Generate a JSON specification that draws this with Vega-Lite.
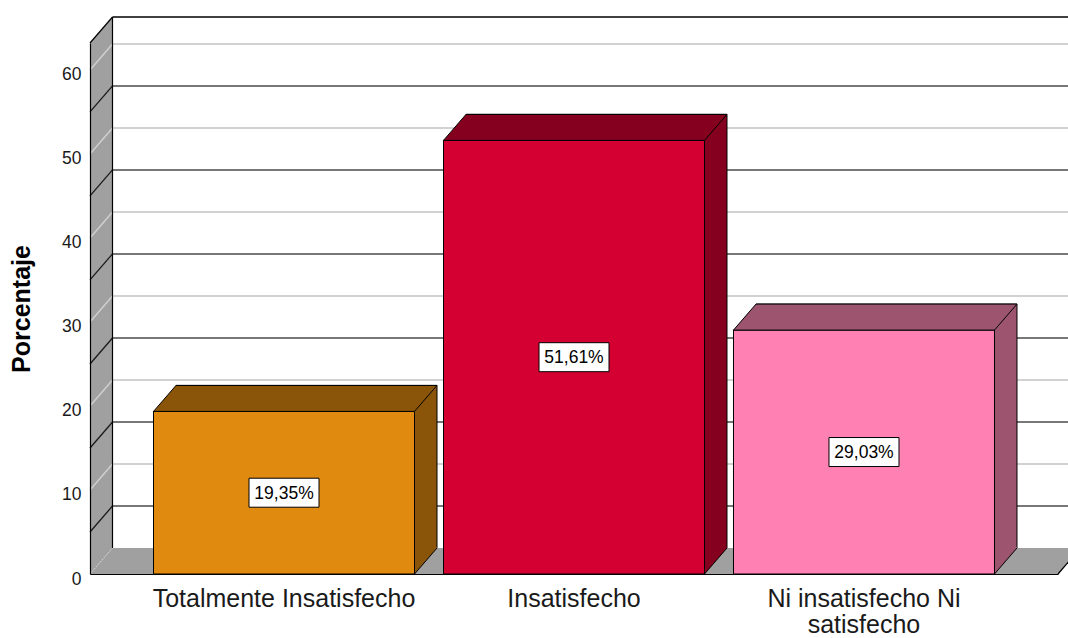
{
  "$schema": "https://vega.github.io/schema/vega-lite/v6.json",
  "width": 968,
  "height": 531,
  "autosize": {"type": "none"},
  "padding": {"left": 90, "top": 43, "right": 10, "bottom": 64},
  "background": "white",
  "config": {
    "view": {"stroke": null},
    "font": "Liberation Sans",
    "locale": {"number": {"decimal": ",", "thousands": ".", "grouping": [3], "currency": ["", "%"]}}
  },
  "datasets": {
    "bars": [
      {"cat": "Totalmente Insatisfecho", "pct": 19.35},
      {"cat": "Insatisfecho", "pct": 51.61},
      {"cat": "Ni insatisfecho Ni satisfecho", "pct": 29.03}
    ],
    "grid": [
      {"v": 5}, {"v": 10}, {"v": 15}, {"v": 20}, {"v": 25}, {"v": 30},
      {"v": 35}, {"v": 40}, {"v": 45}, {"v": 50}, {"v": 55}, {"v": 60}
    ]
  },
  "resolve": {"scale": {"y": "independent"}},
  "layer": [
    {
      "layer": [
        {
          "data": {"values": [{}]},
          "mark": {"type": "rect", "fill": "#a0a0a0", "x2Offset": 22.5},
          "encoding": {
            "x": {"value": 0},
            "x2": {"value": 0},
            "y": {"datum": 0, "type": "quantitative", "scale": {"domain": [0, 63.2], "nice": false, "zero": true}},
            "y2": {"datum": 63.2}
          }
        },
        {
          "data": {"values": [{}]},
          "mark": {"type": "point", "shape": "M0,0L22.5,0L22.5,-26Z", "size": 4, "filled": true, "fill": "#a0a0a0", "strokeWidth": 0, "opacity": 1},
          "encoding": {
            "x": {"value": 0},
            "y": {"datum": 63.2, "type": "quantitative"}
          }
        },
        {
          "data": {"values": [{}]},
          "mark": {"type": "rect", "fill": "#a0a0a0", "x2Offset": 22.5, "y2Offset": -26},
          "encoding": {
            "x": {"value": 0},
            "x2": {"value": "width"},
            "y": {"datum": 0, "type": "quantitative"},
            "y2": {"datum": 0}
          }
        },
        {
          "data": {"values": [{}]},
          "mark": {"type": "point", "shape": "M0,0.5L24,0.5L24,-26L22.5,-26Z", "size": 4, "filled": true, "fill": "white", "strokeWidth": 0, "opacity": 1},
          "encoding": {
            "x": {"value": "width"},
            "y": {"datum": 0, "type": "quantitative"}
          }
        },
        {
          "data": {"name": "grid"},
          "transform": [{"filter": "datum.v % 10 == 0"}],
          "mark": {"type": "rule", "color": "#d2d2d2", "strokeWidth": 2, "xOffset": 22.5, "x2Offset": 22.5, "yOffset": -26},
          "encoding": {
            "x": {"value": 0},
            "x2": {"value": "width"},
            "y": {"field": "v", "type": "quantitative"}
          }
        },
        {
          "data": {"name": "grid"},
          "transform": [{"filter": "datum.v % 10 == 5"}],
          "mark": {"type": "rule", "color": "#4a4a4a", "strokeWidth": 1.5, "xOffset": 22.5, "x2Offset": 22.5, "yOffset": -26},
          "encoding": {
            "x": {"value": 0},
            "x2": {"value": "width"},
            "y": {"field": "v", "type": "quantitative"}
          }
        },
        {
          "data": {"name": "grid"},
          "transform": [{"filter": "datum.v % 10 == 0"}],
          "mark": {"type": "rule", "color": "#cfcfcf", "strokeWidth": 1.5, "x2Offset": 22.5, "y2Offset": -26},
          "encoding": {
            "x": {"value": 0},
            "x2": {"value": 0},
            "y": {"field": "v", "type": "quantitative"},
            "y2": {"field": "v"}
          }
        },
        {
          "data": {"name": "grid"},
          "transform": [{"filter": "datum.v % 10 == 5"}],
          "mark": {"type": "rule", "color": "#1a1a1a", "strokeWidth": 1.3, "x2Offset": 22.5, "y2Offset": -26},
          "encoding": {
            "x": {"value": 0},
            "x2": {"value": 0},
            "y": {"field": "v", "type": "quantitative"},
            "y2": {"field": "v"}
          }
        },
        {
          "data": {"values": [{}]},
          "mark": {"type": "rule", "color": "#d6d6d6", "strokeWidth": 1, "strokeDash": [2, 1], "x2Offset": 22.5, "y2Offset": -26},
          "encoding": {
            "x": {"value": 0},
            "x2": {"value": 0},
            "y": {"datum": 0, "type": "quantitative"},
            "y2": {"datum": 0}
          }
        },
        {
          "data": {"values": [{}]},
          "mark": {"type": "rule", "color": "black", "strokeWidth": 1.2, "xOffset": 22.5, "yOffset": -26, "y2Offset": -26},
          "encoding": {
            "x": {"value": 0},
            "y": {"datum": 0, "type": "quantitative"},
            "y2": {"datum": 63.2}
          }
        },
        {
          "data": {"values": [{}]},
          "mark": {"type": "rule", "color": "black", "strokeWidth": 1.2, "x2Offset": 22.5, "y2Offset": -26},
          "encoding": {
            "x": {"value": 0},
            "x2": {"value": 0},
            "y": {"datum": 63.2, "type": "quantitative"},
            "y2": {"datum": 63.2}
          }
        },
        {
          "data": {"values": [{}]},
          "mark": {"type": "rule", "color": "black", "strokeWidth": 1.6, "xOffset": 22.5, "x2Offset": 22.5, "yOffset": -26},
          "encoding": {
            "x": {"value": 0},
            "x2": {"value": "width"},
            "y": {"datum": 63.2, "type": "quantitative"}
          }
        },
        {
          "data": {"values": [{}]},
          "mark": {"type": "rule", "color": "black", "strokeWidth": 1.2, "x2Offset": 22.5, "y2Offset": -26},
          "encoding": {
            "x": {"value": "width"},
            "x2": {"value": "width"},
            "y": {"datum": 0, "type": "quantitative"},
            "y2": {"datum": 0}
          }
        },
        {
          "data": {"name": "bars"},
          "mark": {"type": "bar", "stroke": "black", "strokeWidth": 1, "xOffset": 22.5, "yOffset": -26, "y2Offset": -26},
          "encoding": {
            "x": {"field": "cat", "type": "nominal", "sort": null},
            "y": {"field": "pct", "type": "quantitative"},
            "fill": {"field": "cat", "type": "nominal", "sort": null, "legend": null, "scale": {"range": ["#8A5508", "#85001F", "#9C546F"]}}
          }
        },
        {
          "data": {"name": "bars"},
          "mark": {"type": "point", "shape": "M0,0L0,-27L22.5,-27L22.5,-26Z", "size": 4, "filled": true, "strokeWidth": 0, "opacity": 1},
          "encoding": {
            "x": {"field": "cat", "type": "nominal", "sort": null, "bandPosition": 1},
            "y": {"datum": 0, "type": "quantitative"},
            "fill": {"field": "cat", "type": "nominal", "sort": null, "legend": null}
          }
        },
        {
          "data": {"name": "bars"},
          "mark": {"type": "point", "shape": "M0,0L22.5,-26", "size": 4, "filled": false, "stroke": "black", "strokeWidth": 1, "opacity": 1},
          "encoding": {
            "x": {"field": "cat", "type": "nominal", "sort": null, "bandPosition": 1},
            "y": {"datum": 0, "type": "quantitative"}
          }
        },
        {
          "data": {"name": "bars"},
          "mark": {"type": "bar", "stroke": "black", "strokeWidth": 1},
          "encoding": {
            "x": {
              "field": "cat", "type": "nominal", "sort": null,
              "scale": {"type": "band", "paddingInner": 0.1, "paddingOuter": 0.219},
              "axis": {
                "title": null, "ticks": false, "grid": false, "labelAngle": 0,
                "bandPosition": 0.5, "labelAlign": "center",
                "labelFontSize": 25, "labelColor": "#1a1a1a", "labelPadding": 24,
                "labelLimit": 0, "labelLineHeight": 26,
                "labelExpr": "datum.label == 'Ni insatisfecho Ni satisfecho' ? ['Ni insatisfecho Ni', 'satisfecho'] : datum.label",
                "domainColor": "black", "domainWidth": 1.2, "zindex": 1
              }
            },
            "y": {
              "field": "pct", "type": "quantitative",
              "axis": {
                "values": [0, 10, 20, 30, 40, 50, 60],
                "title": "Porcentaje", "titleFontSize": 25, "titleFontWeight": "bold",
                "titleColor": "black", "titleX": -61, "titleY": 265.5, "titleAngle": -90,
                "titleBaseline": "alphabetic", "titleAlign": "center",
                "labelFontSize": 17.5, "labelColor": "#1a1a1a", "labelPadding": 9, "labelOffset": 5,
                "ticks": false, "grid": false, "domainColor": "black", "domainWidth": 1.2, "zindex": 1
              }
            },
            "color": {"field": "cat", "type": "nominal", "sort": null, "legend": null, "scale": {"range": ["#E08A10", "#D50032", "#FF80B2"]}}
          }
        },
        {
          "data": {"name": "bars"},
          "mark": {"type": "point", "shape": "M0,0L261,0L283.5,-26L22.5,-26Z", "size": 4, "filled": true, "stroke": "black", "strokeWidth": 1, "opacity": 1},
          "encoding": {
            "x": {"field": "cat", "type": "nominal", "sort": null, "bandPosition": 0},
            "y": {"field": "pct", "type": "quantitative"},
            "fill": {"field": "cat", "type": "nominal", "sort": null, "legend": null}
          }
        }
      ]
    },
    {
      "data": {"name": "bars"},
      "layer": [
        {
          "mark": {"type": "point", "shape": "M-35,-14.5L35,-14.5L35,14.5L-35,14.5Z", "size": 4, "filled": true, "fill": "white", "stroke": "black", "strokeWidth": 1, "opacity": 1},
          "encoding": {
            "x": {"field": "cat", "type": "nominal", "sort": null, "bandPosition": 0.5},
            "y": {"field": "pct", "type": "quantitative", "scale": {"domain": [0, 126.4], "nice": false, "zero": true}, "axis": null}
          }
        },
        {
          "mark": {"type": "text", "fontSize": 17.5, "color": "black", "align": "center", "baseline": "middle", "dy": 1},
          "encoding": {
            "x": {"field": "cat", "type": "nominal", "sort": null, "bandPosition": 0.5},
            "y": {"field": "pct", "type": "quantitative", "axis": null},
            "text": {"field": "pct", "type": "quantitative", "format": "$.2f"}
          }
        }
      ]
    }
  ]
}
